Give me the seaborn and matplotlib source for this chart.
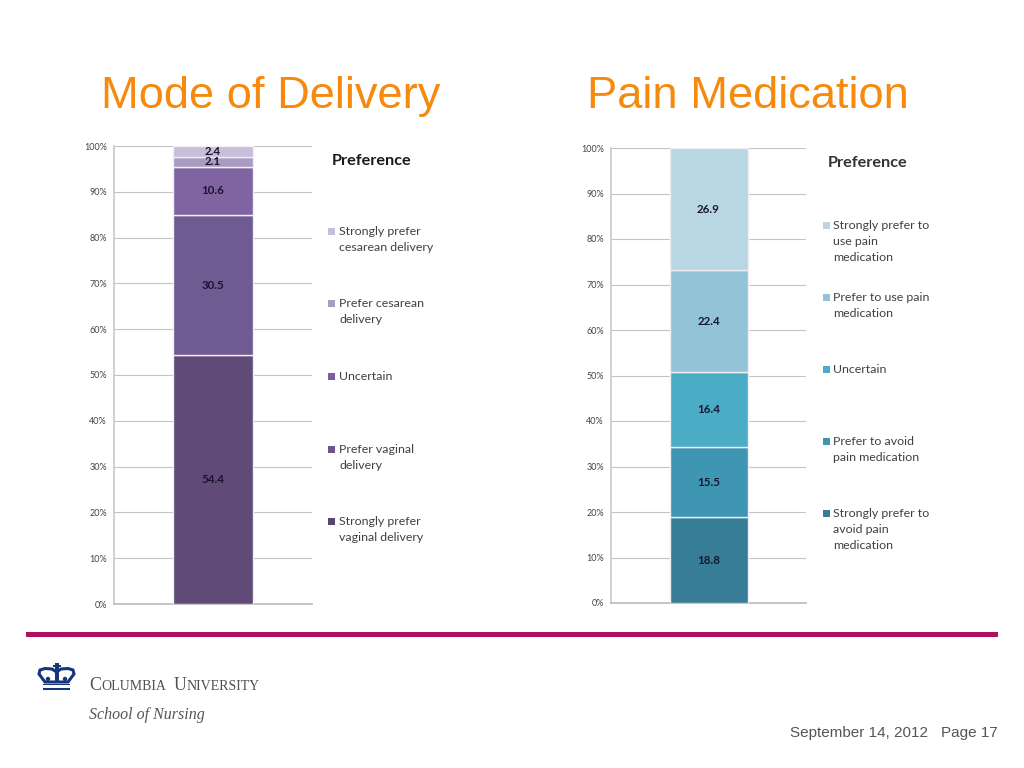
import matplotlib
matplotlib.use('Agg')
import matplotlib.pyplot as plt
import pandas as pd
import seaborn as sns
from matplotlib.patches import Polygon, Rectangle, Circle

# Datos (de abajo hacia arriba)
delivery_labels = ['Strongly prefer\nvaginal delivery', 'Prefer vaginal\ndelivery', 'Uncertain',
                   'Prefer cesarean\ndelivery', 'Strongly prefer\ncesarean delivery']
delivery_values = [54.4, 30.5, 10.6, 2.1, 2.4]
delivery_colors = ['#5f4a78', '#6f5a91', '#8064a2', '#a99cc0', '#c5bfd9']
delivery_swatches = ['#5a4570', '#6b5488', '#7d5f9f', '#a79dc0', '#c5bfd9']

pain_labels = ['Strongly prefer to\navoid pain\nmedication', 'Prefer to avoid\npain medication', 'Uncertain',
               'Prefer to use pain\nmedication', 'Strongly prefer to\nuse pain\nmedication']
pain_values = [18.8, 15.5, 16.4, 22.4, 26.9]
pain_colors = ['#367d95', '#3f96b2', '#4bacc6', '#93c3d6', '#b9d6e3']

pct_ticks = [0, 10, 20, 30, 40, 50, 60, 70, 80, 90, 100]

W, H = 1024, 768
sns.set_theme(style='white')
plt.rcParams['font.family'] = ['Lato', 'DejaVu Sans']

fig = plt.figure(figsize=(W / 100, H / 100), dpi=100, facecolor='white')


def add_axes_px(x0, y0, x1, y1):
    return fig.add_axes([x0 / W, 1 - y1 / H, (x1 - x0) / W, (y1 - y0) / H])


def stacked_bar(ax, values, colors):
    bottom = 0
    for val, col in zip(values, colors):
        df = pd.DataFrame({'grupo': [''], 'valor': [val]})
        sns.barplot(data=df, x='grupo', y='valor', bottom=bottom, color=col, saturation=1,
                    width=0.4, edgecolor='#f0edf5', linewidth=1.0, ax=ax, zorder=3)
        ax.text(0, bottom + val / 2, f'{val:.1f}', ha='center', va='center', fontsize=8.3,
                fontweight='bold', color='#1a1430', zorder=4)
        bottom += val
    ax.set_xlim(-0.5, 0.5)
    ax.set_ylim(0, 100)
    ax.set_yticks(pct_ticks)
    ax.set_yticklabels([f'{t}%' for t in pct_ticks], fontsize=6.5, color='#444444')
    ax.set_xticks([])
    ax.set_xlabel('')
    ax.set_ylabel('')
    ax.tick_params(axis='y', length=0, pad=5)
    ax.grid(axis='y', color='#c4c4c4', linewidth=0.8, zorder=0)
    ax.set_axisbelow(True)
    sns.despine(ax=ax, top=True, right=True)
    ax.spines['left'].set_color('#cccccc')
    ax.spines['bottom'].set_color('#bdbdbd')


ax1 = add_axes_px(114, 146, 312, 604)
stacked_bar(ax1, delivery_values, delivery_colors)
ax2 = add_axes_px(611, 148, 806, 603)
stacked_bar(ax2, pain_values, pain_colors)

# Capa en pixeles para lo que no es grafico
top = fig.add_axes([0, 0, 1, 1], zorder=5)
top.set_xlim(0, W)
top.set_ylim(H, 0)
top.axis('off')
top.patch.set_alpha(0)

# Titulos
top.text(101, 108, 'Mode of Delivery', fontsize=32.6, color='#f58a0f', family='Liberation Sans', va='baseline')
top.text(587, 108, 'Pain Medication', fontsize=32.6, color='#f58a0f', family='Liberation Sans', va='baseline')

# Leyendas
top.text(332, 161, 'Preference', fontsize=11.7, fontweight='bold', color='#1a1a1a', va='center')
for lab, col, y in zip(delivery_labels, delivery_swatches, [521, 449, 376, 303, 231]):
    top.add_patch(Rectangle((328, y - 3.5), 7, 7, color=col, lw=0))
    top.text(339, y - 5, lab, fontsize=8.9, color='#404040', va='top', linespacing=1.6)

top.text(828, 163, 'Preference', fontsize=11.7, fontweight='bold', color='#333333', va='center')
for lab, col, y in zip(pain_labels, pain_colors, [513, 441, 369, 297, 225]):
    top.add_patch(Rectangle((823, y - 3.5), 7, 7, color=col, lw=0))
    top.text(833, y - 5, lab, fontsize=8.9, color='#404040', va='top', linespacing=1.55)

# Linea inferior
top.add_patch(Rectangle((26, 632), 972, 4.5, color='#b0105f', lw=0))

# Escudo de Columbia
navy = '#16357a'
top.add_patch(Rectangle((43, 687.5), 27, 2.6, color=navy, lw=0))
top.add_patch(Rectangle((43, 683.5), 27, 1.8, color=navy, lw=0))
top.add_patch(Polygon([(45, 682), (39, 674), (40, 670), (45, 668.5), (52, 669), (56.5, 672), (61, 669),
                       (68, 668.5), (73, 670), (74, 674), (68, 682)], closed=True, fill=False, ec=navy, lw=2.2))
top.add_patch(Rectangle((54.5, 663), 4, 19, color=navy, lw=0))
top.add_patch(Rectangle((52.5, 665), 8, 2, color=navy, lw=0))
top.add_patch(Circle((48, 679), 2.2, color=navy, lw=0))
top.add_patch(Circle((65, 679), 2.2, color=navy, lw=0))

# Texto de versalitas
serif = 'Liberation Serif'
x = 89
renderer = fig.canvas.get_renderer()
for piece, size in [('C', 12.8), ('OLUMBIA', 10), (' ', 10), ('U', 12.8), ('NIVERSITY', 10)]:
    t = top.text(x, 690, piece, fontsize=size, family=serif, color='#4f4f4f', va='baseline')
    x += t.get_window_extent(renderer).width + (3 if piece == ' ' else 0.5)
top.text(89, 715, 'School of Nursing', fontsize=11.5, family=serif, style='italic', color='#555555', va='center')

# Pie
top.text(928, 733, 'September 14, 2012', fontsize=11, family='Liberation Sans',
         color='#555555', ha='right', va='center')
top.text(998, 733, 'Page 17', fontsize=11, family='Liberation Sans',
         color='#555555', ha='right', va='center')

fig.savefig('out.png', dpi=100)
